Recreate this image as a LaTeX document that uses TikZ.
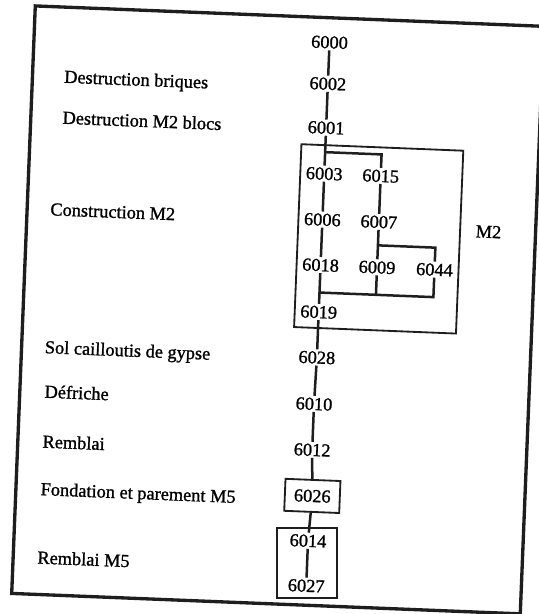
\documentclass[tikz,border=0pt]{standalone}
\usepackage{fontspec}
\setmainfont{Liberation Serif}
\newfontfamily\scanfont[FakeBold=1.2]{Liberation Serif}
\usetikzlibrary{fit}
\definecolor{ScanInk}{HTML}{1E1E1E}

\begin{document}
\begin{tikzpicture}[x=0.6pt,y=-0.6pt,
  unit/.style={font=\scanfont\fontsize{11}{13}\selectfont,inner sep=1pt,text height=7.3pt,text depth=0pt},
  phase/.style={font=\scanfont\fontsize{11}{13}\selectfont,anchor=west,inner sep=0pt,text height=7.3pt,text depth=0pt},
  link/.style={draw=ScanInk,line width=1.5pt},
  group/.style={draw=ScanInk,line width=1.1pt}]
  \useasboundingbox (0,0) rectangle (538,614);
  \begin{scope}[rotate=-2.3,transform shape]
  \draw[ScanInk,line width=2pt] (35.5,4.5) rectangle (544.5,592.5);

  \foreach \n/\x/\y in {6000/331/29,6002/331/70.5,6001/331/114.5,6003/331/160.5,6006/331/206.5,
      6018/331/252,6019/331/299,6028/331/344.5,6010/330/391,6012/330/437,
      6015/387.5/160.5,6007/387.5/206.5,6009/387.5/252,6044/445/252,
      6014/329.5/528,6027/329.5/573}
    \node[unit] (n\n) at (\x,\y) {\n};
  \node[unit,group,minimum width=33pt,minimum height=19.2pt] (n6026) at (332,483) {6026};

  \node[group,minimum width=97.2pt,minimum height=109.8pt,inner sep=0pt] (m2box) at (388,223.5) {};
  \node[group,fit=(n6014)(n6027),inner xsep=5.4pt,inner ysep=2.6pt] (m5box) {};
  \node[unit] (m2label) at (497.5,212) {M2};

  \coordinate (fork1) at (331,139);
  \coordinate (fork2) at (387.5,230);
  \coordinate (join1) at (331,279.5);
  \foreach \a/\b in {6000/6002,6002/6001,6001/6003,6003/6006,6006/6018,6018/6019,
      6015/6007,6007/6009,6019/6028,6028/6010,6010/6012,6012/6026,6026/6014,6014/6027}
    \draw[link] (n\a) -- (n\b);
  \draw[link] (fork1) -| (n6015);
  \draw[link] (fork2) -| (n6044);
  \draw[link] (n6009) -- (n6009 |- join1);
  \draw[link] (n6044) |- (join1);

  \node[phase] (briques) at (67,74) {Destruction briques};
  \node[phase] (blocs) at (67,115) {Destruction M2 blocs};
  \node[phase] (construction) at (58.5,207) {Construction M2};
  \node[phase] (sol) at (58.5,345) {Sol cailloutis de gypse};
  \node[phase] (friche) at (60,389.5) {Défriche};
  \node[phase] (remblai) at (60,439.5) {Remblai};
  \node[phase] (fondation) at (60,487) {Fondation et parement M5};
  \node[phase] (remblaim5) at (59.5,555.5) {Remblai M5};
  \end{scope}
\end{tikzpicture}
\end{document}
